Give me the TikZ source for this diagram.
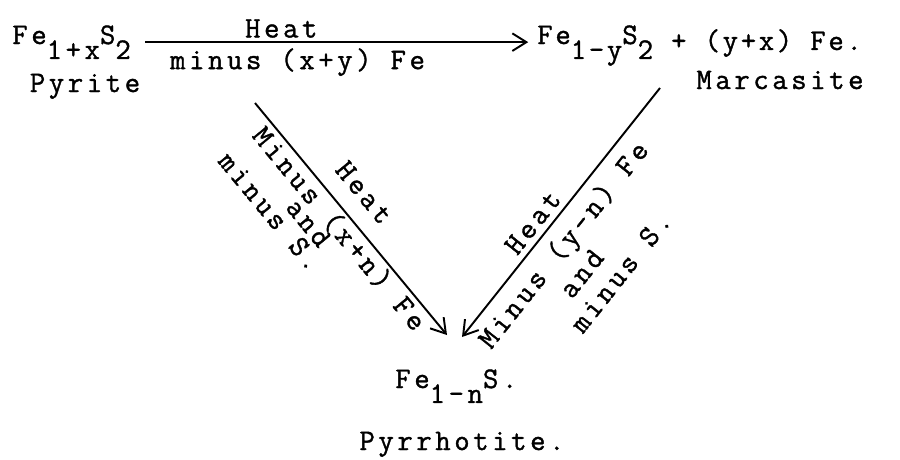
\documentclass[tikz,border=0pt]{standalone}
\usepackage{fontspec}
\usetikzlibrary{arrows.meta}
\newfontfamily\twfont{Latin Modern Mono}[FakeBold=1.2, LetterSpace=12]
\newfontfamily\twfontn{Latin Modern Mono}[FakeBold=1.2, LetterSpace=9]
\newcommand\tw{\twfont\fontsize{17}{20}\selectfont}
\newcommand\twn{\twfontn\fontsize{17}{20}\selectfont}
\newcommand\subtw[1]{\raisebox{-0.5em}{#1}}

\begin{document}
\begin{tikzpicture}[x=0.02cm, y=-0.02cm,
    chem/.style={font=\tw, inner sep=0pt},
    lbl/.style={font=\tw, inner sep=0pt},
    rxn/.style={line width=1.1pt, -{Straight Barb[length=8pt,width=10pt]}}]
    \useasboundingbox (0,0) rectangle (900,460);

    \node[chem, anchor=base west] (pyr) at (12,44) {Fe\subtw{1+x}S\subtw{2}};
    \node[chem, font=\twn, anchor=base west] (mar) at (537,44) {Fe\subtw{1-y}S\subtw{2} \raisebox{-0.2em}{+ (y+x) Fe.}};
    \node[chem, anchor=base west] (pyrrh) at (395,388) {Fe\subtw{1-n}S.};

    \node[lbl, anchor=base] (pyrname) at (85,92) {Pyrite};
    \node[lbl, anchor=base] (marname) at (780,89) {Marcasite};
    \node[lbl, anchor=base] (pyrrhname) at (462,450) {Pyrrhotite.};

    \coordinate (lstart) at (255,103);
    \coordinate (ltip) at (447,335);
    \coordinate (rstart) at (660,88);
    \coordinate (rtip) at (462,337);

    % pyrite to marcasite
    \draw[rxn, shorten <=8pt, shorten >=5pt] (pyr.east) -- (pyr.east -| mar.west)
        node[lbl, pos=0.37, above=2pt] {Heat}
        node[lbl, pos=0.41, below=3pt] {minus (x+y) Fe};

    % pyrite to pyrrhotite
    \draw[rxn] (lstart) -- (ltip)
        node[lbl, sloped, pos=0.46, yshift=0.54cm] {Heat}
        node[lbl, sloped, pos=0.50, yshift=-0.30cm] {Minus (x+n) Fe}
        node[lbl, sloped, pos=0.42, yshift=-0.70cm] {and}
        node[lbl, sloped, pos=0.31, yshift=-1.15cm] {minus S.};

    % marcasite to pyrrhotite
    \draw[rxn] (rstart) -- (rtip)
        node[lbl, sloped, pos=0.58, yshift=0.32cm] {Heat}
        node[lbl, sloped, pos=0.575, yshift=-0.48cm] {Minus (y-n) Fe}
        node[lbl, sloped, pos=0.61, yshift=-1.08cm] {and}
        node[lbl, sloped, pos=0.53, yshift=-1.68cm] {minus S.};
\end{tikzpicture}
\end{document}
